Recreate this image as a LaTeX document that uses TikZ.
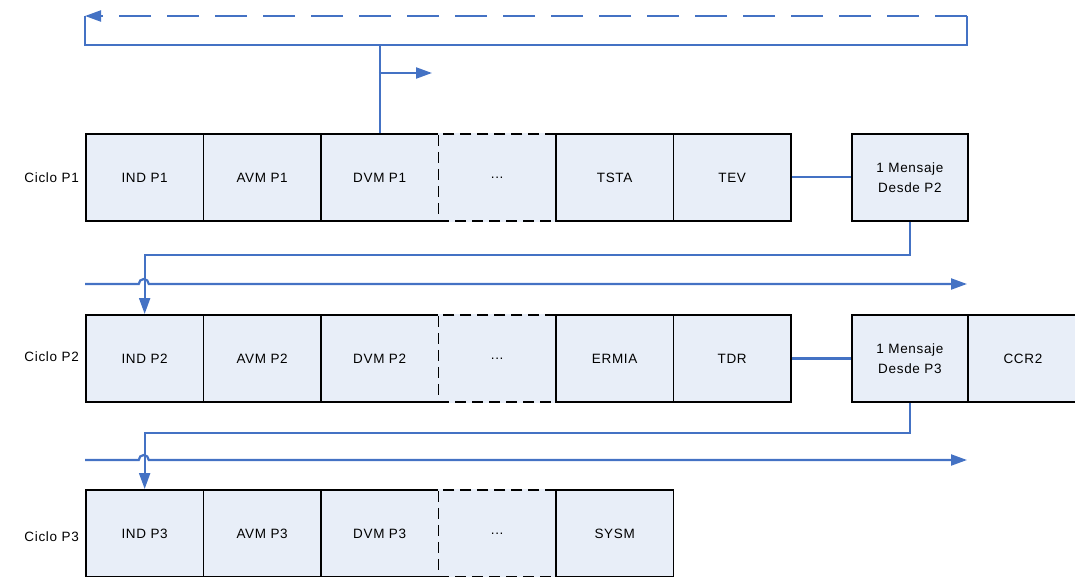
\documentclass[tikz,border=0pt]{standalone}
\usepackage{fontspec}
\setmainfont{Liberation Sans}[LetterSpace=5]
\usetikzlibrary{arrows.meta}
\definecolor{lineblue}{RGB}{68,114,196}
\definecolor{boxfill}{RGB}{232,238,248}
\tikzset{
  cell/.style={rectangle, draw=black, line width=1.8pt, fill=boxfill,
    minimum width=117.5pt, minimum height=87pt, inner sep=0pt, anchor=north west,
    font=\fontsize{13.5}{20}\selectfont, align=center},
  dotcell/.style={cell, dash pattern=on 11pt off 6pt,
    preaction={draw=boxfill, solid}},
  msgcell/.style={cell, minimum width=116pt},
  rowlabel/.style={anchor=east, font=\fontsize{13.5}{16}\selectfont, inner sep=0pt},
  conn/.style={draw=lineblue, line width=2.2pt},
  arr/.style={conn, -{Triangle[length=16pt,width=11pt]}},
  darr/.style={arr, dash pattern=on 32pt off 16pt}
}
\begin{document}
\begin{tikzpicture}[x=1pt,y=1pt]
\useasboundingbox (0,0) rectangle (1075,-577);
% Row 1
\node[cell] (ind1) at (85,-133) {IND P1};
\node[cell] (avm1) at (202.5,-133) {AVM P1};
\node[cell] (dvm1) at (320,-133) {DVM P1};
\node[dotcell] (dots1) at (437.5,-133) {...};
\node[cell] (tsta) at (555,-133) {TSTA};
\node[cell] (tev) at (672.5,-133) {TEV};
\node[msgcell] (msg1) at (851,-133) {1 Mensaje\\Desde P2};
\node[rowlabel] (c1) at (79,-178) {Ciclo P1};
% Row 2
\node[cell] (ind2) at (85,-314) {IND P2};
\node[cell] (avm2) at (202.5,-314) {AVM P2};
\node[cell] (dvm2) at (320,-314) {DVM P2};
\node[dotcell] (dots2) at (437.5,-314) {...};
\node[cell] (ermia) at (555,-314) {ERMIA};
\node[cell] (tdr) at (672.5,-314) {TDR};
\node[msgcell] (msg2) at (851,-314) {1 Mensaje\\Desde P3};
\node[cell, minimum width=110pt] (ccr2) at (967,-314) {CCR2};
\node[rowlabel] (c2) at (79,-357) {Ciclo P2};
% Row 3
\node[cell] (ind3) at (85,-489) {IND P3};
\node[cell] (avm3) at (202.5,-489) {AVM P3};
\node[cell] (dvm3) at (320,-489) {DVM P3};
\node[dotcell] (dots3) at (437.5,-489) {...};
\node[cell] (sysm) at (555,-489) {SYSM};
\node[rowlabel] (c3) at (79,-537) {Ciclo P3};
% Top loop
\coordinate (tl) at (85,-16);
\coordinate (tr) at (967,-16);
\coordinate (bl) at (85,-45);
\coordinate (br) at (967,-45);
\draw[darr] (tr) -- (tl);
\draw[conn] (tl) -- (bl) -- (br) -- (tr);
\draw[conn] (dvm1.north) -- (dvm1.north |- bl);
\coordinate (b1) at (378.75,-73);
\coordinate (b1e) at (432,-73);
\draw[arr] (b1) -- (b1e);
% Row 1 to row 2
\draw[conn] (tev.east) -- (msg1.west);
\coordinate (h1s) at (85,-284);
\coordinate (h1e) at (967,-284);
\draw[arr] (h1s) -- (138.75,-284) arc (180:0:5) -- (h1e);
\draw[arr] (msg1.south) -- ++(0,-33) -| (ind2.north);
% Row 2 to row 3
\draw[conn] (tdr.east) -- (msg2.west);
\coordinate (h2s) at (85,-460);
\coordinate (h2e) at (967,-460);
\draw[arr] (h2s) -- (138.75,-460) arc (180:0:5) -- (h2e);
\draw[arr] (msg2.south) -- ++(0,-30) -| (ind3.north);
\end{tikzpicture}
\end{document}
